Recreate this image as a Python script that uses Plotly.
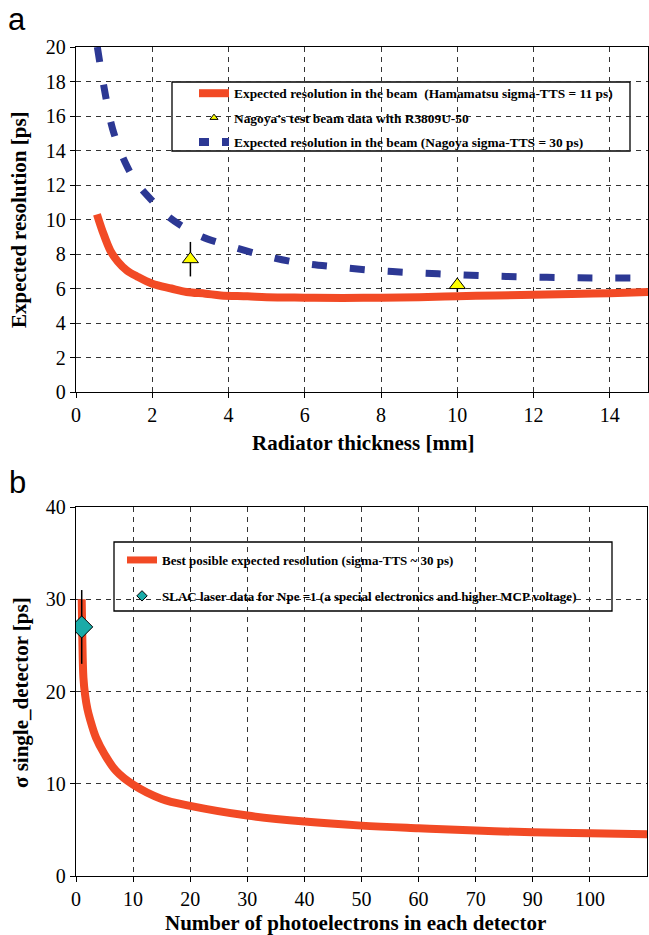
import plotly.graph_objects as go

W, H = 649, 935

# ---------------- Panel a data ----------------
a_red_x = [0.55, 0.7, 0.9, 1.1, 1.33, 1.6, 2.0, 2.5, 2.9, 3.4, 3.8, 4.5, 5.0, 6.0, 7.0, 8.0, 9.0, 10.0, 11.0, 12.0, 13.0, 14.0, 15.0]
a_red_y = [10.3, 9.3, 8.2, 7.55, 7.05, 6.7, 6.28, 6.0, 5.8, 5.7, 5.6, 5.55, 5.5, 5.47, 5.45, 5.47, 5.5, 5.55, 5.6, 5.64, 5.68, 5.73, 5.8]

a_blue_x = [0.56, 0.74, 0.96, 1.29, 1.6, 1.95, 2.4, 2.82, 3.3, 3.83, 4.82, 5.82, 6.81, 7.81, 8.82, 9.82, 10.82, 11.8, 12.81, 13.8, 15.0]
a_blue_y = [20.0, 17.6, 15.25, 13.3, 12.1, 11.2, 10.2, 9.56, 9.0, 8.6, 7.97, 7.5, 7.25, 7.05, 6.92, 6.82, 6.73, 6.67, 6.63, 6.61, 6.6]

a_pts_x = [3, 10]
a_pts_y = [7.7, 6.2]
a_pts_err = [1.0, 0.4]

a_names = [
    "Expected resolution in the beam\u00a0\u00a0(Hamamatsu sigma-TTS = 11 ps)",
    "Nagoya's test beam data with R3809U-50",
    "Expected resolution in the beam (Nagoya sigma-TTS = 30 ps)",
]

# ---------------- Panel b data ----------------
b_red_x = [1.0, 1.1, 1.3, 1.6, 2.0, 2.5, 3.5, 5.0, 7.0, 10, 15, 20, 30, 40, 50, 60, 70, 80, 90, 100]
b_red_y = [30.0, 26.0, 21.5, 19.6, 18.1, 16.9, 15.0, 13.2, 11.4, 9.9, 8.35, 7.6, 6.55, 5.9, 5.46, 5.17, 4.92, 4.74, 4.63, 4.52]

b_pts_x = [1]
b_pts_y = [27]
b_pts_err = [4]

b_names = [
    "Best posible expected resolution (sigma-TTS ~ 30 ps)",
    "SLAC laser data for Npe =1 (a special electronics and higher MCP voltage)",
]

a_xticks = [0, 2, 4, 6, 8, 10, 12, 14]
a_yticks = [0, 2, 4, 6, 8, 10, 12, 14, 16, 18, 20]
b_xtickvals = [0, 10, 20, 30, 40, 50, 60, 70, 80, 90]
b_xticktext = ["0", "10", "20", "30", "40", "50", "60", "70", "90", "100"]
b_yticks = [0, 10, 20, 30, 40]

RED = "#F24A25"
BLUE = "#2C3894"
YELLOW = "#FFFF00"
TEAL = "#1AABA8"
SERIF = "Liberation Serif"

fig = go.Figure()

# ---- panel a traces ----
fig.add_trace(go.Scatter(x=a_red_x, y=a_red_y, mode="lines", line=dict(color=RED, width=8, shape="spline"),
                         showlegend=False, xaxis="x", yaxis="y"))
fig.add_trace(go.Scatter(x=a_blue_x, y=a_blue_y, mode="lines",
                         line=dict(color=BLUE, width=7, dash="15px,23px", shape="spline"),
                         showlegend=False, xaxis="x", yaxis="y"))
fig.add_trace(go.Scatter(x=a_pts_x, y=a_pts_y, mode="markers",
                         marker=dict(symbol="triangle-up", size=14, color=YELLOW, line=dict(color="black", width=1)),
                         error_y=dict(type="data", array=a_pts_err, color="black", thickness=1.5, width=0),
                         showlegend=False, xaxis="x", yaxis="y"))

# legend entries panel a
fig.add_trace(go.Scatter(x=[None], y=[None], mode="lines", name=a_names[0],
                         line=dict(color=RED, width=8), legend="legend", legendgroup="a1", xaxis="x", yaxis="y"))
fig.add_trace(go.Scatter(x=[None], y=[None], mode="markers", name=a_names[1],
                         marker=dict(symbol="triangle-up", size=7, color=YELLOW, line=dict(color="black", width=1)),
                         legend="legend", legendgroup="a2", xaxis="x", yaxis="y"))
fig.add_trace(go.Scatter(x=[None], y=[None], mode="lines", name=a_names[2],
                         line=dict(color=BLUE, width=8, dash="10px,13px"), legend="legend", legendgroup="a3",
                         xaxis="x", yaxis="y"))

# ---- panel b traces ----
fig.add_trace(go.Scatter(x=b_red_x, y=b_red_y, mode="lines", line=dict(color=RED, width=8, shape="spline"),
                         showlegend=False, xaxis="x2", yaxis="y2"))
fig.add_trace(go.Scatter(x=b_pts_x, y=b_pts_y, mode="markers",
                         marker=dict(symbol="diamond", size=17, color=TEAL, line=dict(color="black", width=1)),
                         error_y=dict(type="data", array=b_pts_err, color="black", thickness=1.5, width=0),
                         showlegend=False, xaxis="x2", yaxis="y2"))

fig.add_trace(go.Scatter(x=[None], y=[None], mode="lines", name=b_names[0],
                         line=dict(color=RED, width=7), legend="legend2", legendgroup="b1", xaxis="x2", yaxis="y2"))
fig.add_trace(go.Scatter(x=[None], y=[None], mode="markers", name=b_names[1],
                         marker=dict(symbol="diamond", size=8, color=TEAL, line=dict(color="black", width=1)),
                         legend="legend2", legendgroup="b2", xaxis="x2", yaxis="y2"))

tickfont = dict(family=SERIF, size=20, color="black")
common = dict(showline=True, linecolor="black", linewidth=1.3, mirror=True, ticks="outside", ticklen=5,
              tickcolor="black", tickwidth=1, showgrid=True, gridcolor="#333333", gridwidth=1,
              griddash="5px,5px", zeroline=False, automargin=False, tickfont=tickfont)

fig.update_layout(
    template="none",
    width=W, height=H, margin=dict(l=0, r=0, t=0, b=0, pad=0, autoexpand=False),
    font=dict(family=SERIF, color="black"),
    paper_bgcolor="white", plot_bgcolor="white",
    xaxis=dict(domain=[76 / W, 648 / W], range=[0, 15], tickvals=a_xticks, anchor="y", **common),
    yaxis=dict(domain=[(H - 392) / H, (H - 47) / H], range=[0, 20], tickvals=a_yticks, anchor="x", **common),
    xaxis2=dict(domain=[76 / W, 647 / W], range=[0, 100], tickvals=b_xtickvals, ticktext=b_xticktext,
                anchor="y2", **common),
    yaxis2=dict(domain=[(H - 876) / H, (H - 507) / H], range=[0, 40], tickvals=b_yticks, anchor="x2", **common),
    legend=dict(x=194 / W, xanchor="left", y=(H - 78) / H, yanchor="top", bgcolor="rgba(0,0,0,0)",
                borderwidth=0, tracegroupgap=4, font=dict(family=SERIF, size=13.4, color="black", weight="bold")),
    legend2=dict(x=122 / W, xanchor="left", y=(H - 545) / H, yanchor="top", bgcolor="rgba(0,0,0,0)",
                 borderwidth=0, tracegroupgap=16, font=dict(family=SERIF, size=13, color="black", weight="bold")),
    shapes=[
        dict(type="rect", xref="paper", yref="paper", x0=172 / W, x1=630 / W, y0=(H - 151) / H, y1=(H - 82) / H,
             line=dict(color="black", width=1.3), fillcolor="white", layer="below"),
        dict(type="rect", xref="paper", yref="paper", x0=114 / W, x1=612 / W, y0=(H - 611) / H, y1=(H - 542) / H,
             line=dict(color="black", width=1.3), fillcolor="white", layer="below"),
    ],
    annotations=[
        dict(text="a", x=17 / W, y=(H - 20) / H, xref="paper", yref="paper", showarrow=False,
             xanchor="center", yanchor="middle", font=dict(family="Liberation Sans", size=31, color="black")),
        dict(text="b", x=17 / W, y=(H - 482) / H, xref="paper", yref="paper", showarrow=False,
             xanchor="center", yanchor="middle", font=dict(family="Liberation Sans", size=31, color="black")),
        dict(text="<b>Radiator thickness [mm]</b>", x=363 / W, y=(H - 443) / H, xref="paper", yref="paper",
             xanchor="center", yanchor="middle",
             showarrow=False, font=dict(family=SERIF, size=21, color="black")),
        dict(text="<b>Expected resolution [ps]</b>", x=19 / W, y=(H - 220) / H, xref="paper", yref="paper",
             xanchor="center", yanchor="middle",
             showarrow=False, textangle=-90, font=dict(family=SERIF, size=21, color="black")),
        dict(text="<b>Number of photoelectrons in each detector</b>", x=355 / W, y=(H - 923) / H, xref="paper",
             xanchor="center", yanchor="middle",
             yref="paper", showarrow=False, font=dict(family=SERIF, size=21, color="black")),
        dict(text="<b>σ single_detector [ps]</b>", x=21 / W, y=(H - 693) / H, xref="paper", yref="paper",
             xanchor="center", yanchor="middle",
             showarrow=False, textangle=-90, font=dict(family=SERIF, size=21, color="black")),
    ],
)

fig.write_html("out.html", config={"displayModeBar": False},
               post_script="document.body.style.margin='0px';document.body.style.overflow='hidden';")
